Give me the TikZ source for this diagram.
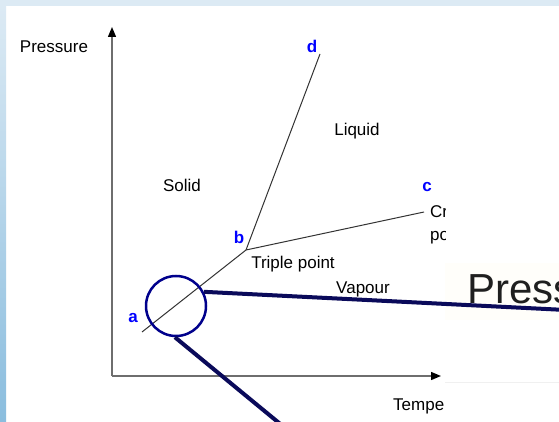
\documentclass[tikz,border=0pt]{standalone}
\usepackage{fontspec}
\setmainfont{Liberation Sans}
\usetikzlibrary{arrows.meta,positioning}
\definecolor{ptblue}{RGB}{0,0,255}
\definecolor{loupenavy}{RGB}{0,0,140}
\definecolor{loupeline}{RGB}{10,10,90}
\definecolor{axisgrey}{RGB}{110,110,110}
\definecolor{frametop}{RGB}{220,234,244}
\definecolor{framebot}{RGB}{138,189,222}
\definecolor{loupefill}{RGB}{255,254,250}

\begin{document}
\begin{tikzpicture}[x=1pt, y=-1pt, font=\fontsize{17}{19}\selectfont,
  >={Triangle[length=10pt,width=8pt,color=black]},
  ax/.style={draw=axisgrey, line width=1.4pt, ->},
  ph/.style={draw=black!80, line width=1pt},
  lbl/.style={inner sep=0pt},
  pt/.style={lbl, text=ptblue, font=\fontsize{17}{19}\selectfont\bfseries},
  zl/.style={draw=loupeline, line width=4pt}]

% --- page and frame ---
\clip (0,0) rectangle (559,422);
\fill[white] (0,0) rectangle (559,422);
\fill[frametop] (0,0) rectangle (559,6);
\shade[top color=frametop, bottom color=framebot] (0,6) rectangle (6,422);

% --- axes ---
\coordinate (orig) at (112,376);
\coordinate (ytop) at (112,27);
\coordinate (xend) at (441,376);
\draw[ax] (orig) -- (ytop);
\draw[ax] (orig) -- (xend);
\node[lbl] (plab) at (54,47) {Pressure};

% --- phase boundaries ---
\coordinate (a) at (142,332);
\coordinate (b) at (246,250);
\coordinate (c) at (424,212);
\coordinate (d) at (320,54);
\draw[ph] (a) -- (b) -- (c);
\draw[ph] (b) -- (d);

\node[pt] (alab) at (133,318) {a};
\node[pt] (blab) at (239,237) {b};
\node[pt] (clab) at (427,187) {c};
\node[pt] (dlab) at (312,46) {d};

\node[lbl] (solid) at (182,185) {Solid};
\node[lbl] (liquid) at (357,131) {Liquid};
\node[lbl] (triple) at (293,264) {Triple point};
\node[lbl] (vapour) at (363,289) {Vapour};

% --- texts cut by the inset ---
\begin{scope}
  \clip (0,0) rectangle (445,422);
  \node[lbl, anchor=west] (crit1) at (430,212) {Cr};
  \node[lbl, anchor=west] (crit2) at (430,238) {po};
  \node[lbl, anchor=west] (tlab) at (393,406) {Tempe};
\end{scope}

% --- inset ---
\fill[loupefill] (445,263) rectangle (559,320);
\draw[black!6] (445,382) -- (559,382);
\node[inner sep=0pt, anchor=base west, text=black!88,
      font=\fontsize{42}{46}\selectfont] (press) at (467,303) {Press};

% --- loupe ---
\node[circle, draw=loupenavy, line width=2.5pt, minimum size=60pt, inner sep=0pt] (loupe) at (176,306) {};
\coordinate (rimE) at (566,310);
\coordinate (rimS) at (290,432);
\draw[zl] (loupe.27) -- (rimE);
\draw[zl] (loupe.-92) -- (rimS);
\end{tikzpicture}
\end{document}
